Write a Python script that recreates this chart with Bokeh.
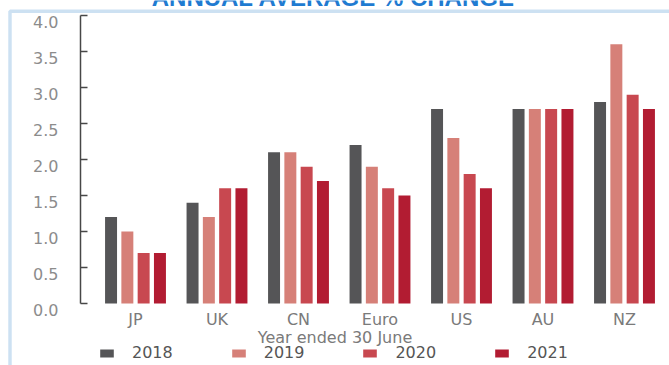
import numpy as np
from bokeh.plotting import figure
from bokeh.models import (Range1d, FixedTicker, NumeralTickFormatter, Legend,
                          LegendItem, Label, BoxAnnotation, ColumnDataSource,
                          LinearAxis, CustomJSTickFormatter)
from bokeh.embed import file_html
from bokeh.resources import INLINE

categories = ["JP", "UK", "CN", "Euro", "US", "AU", "NZ"]
years = ["2018", "2019", "2020", "2021"]
v2018 = [1.2, 1.4, 2.1, 2.2, 2.7, 2.7, 2.8]
v2019 = [1.0, 1.2, 2.1, 1.9, 2.3, 2.7, 3.6]
v2020 = [0.7, 1.6, 1.9, 1.6, 1.8, 2.7, 2.9]
v2021 = [0.7, 1.6, 1.7, 1.5, 1.6, 2.7, 2.7]
series = [v2018, v2019, v2020, v2021]
colors = ["#555557", "#d68078", "#c84850", "#b21c32"]
y_ticks = [0.0, 0.5, 1.0, 1.5, 2.0, 2.5, 3.0, 3.5, 4.0]
title_text = "ANNUAL AVERAGE % CHANGE"
x_label = "Year ended 30 June"

FONT = "DejaVu Sans"
W, H = 669, 365
PX_X = 81.5          # pixels per category
PX_Y = 72.0          # pixels per unit on y
X0_PX, Y0_PX = 135.0, 303.0   # pixel of first category centre / of y = 0
LABEL_DROP = 6.0     # y tick labels sit a few pixels below their ticks


def xd(px):
    return (px - X0_PX) / PX_X


def yd(py):
    return (Y0_PX - py) / PX_Y


p = figure(width=W, height=H, output_backend="svg", toolbar_location=None,
           x_range=Range1d(xd(0), xd(W)), y_range=Range1d(yd(H), yd(0)),
           min_border=0)
p.title.visible = False
p.outline_line_color = None
p.grid.visible = False
p.background_fill_color = "white"
p.border_fill_color = "white"

idx = np.arange(len(categories))
bar_w = 0.147
pitch = 0.2
renderers = []
for j, (yr, vals, col) in enumerate(zip(years, series, colors)):
    src = ColumnDataSource(dict(x=idx + (j - 1.5) * pitch, top=vals))
    r = p.vbar(x="x", top="top", width=bar_w, bottom=0, source=src,
               fill_color=col, line_color=None)
    renderers.append(r)

# y axis line + inward ticks (drawn at a fixed location inside the full-canvas frame)
ya = p.yaxis[0]
ya.fixed_location = xd(80)
ya.bounds = (y_ticks[0], y_ticks[-1])
ya.ticker = FixedTicker(ticks=y_ticks)
ya.formatter = CustomJSTickFormatter(code="return ''")
ya.major_tick_in = 7
ya.major_tick_out = 0
ya.minor_tick_in = 0
ya.minor_tick_out = 0
ya.axis_line_color = "#474747"
ya.axis_line_width = 1.5
ya.major_tick_line_color = "#474747"
ya.major_tick_line_width = 1.5

# y tick labels (same ticks, shown slightly below the tick marks as in the source)
d = LABEL_DROP / PX_Y
p.extra_y_ranges = {"lab": Range1d(yd(H) + d, yd(0) + d)}
ylab = LinearAxis(y_range_name="lab", fixed_location=xd(80),
                  ticker=FixedTicker(ticks=y_ticks),
                  formatter=NumeralTickFormatter(format="0.0"),
                  axis_line_color=None, major_tick_line_color=None,
                  minor_tick_line_color=None, major_tick_out=0, major_tick_in=0,
                  major_label_standoff=22, major_label_text_font=FONT,
                  major_label_text_font_size="16px",
                  major_label_text_color="#8c8c8c")
p.add_layout(ylab, "left")

# x axis
xa = p.xaxis[0]
xa.fixed_location = 0
xa.ticker = FixedTicker(ticks=list(idx))
xa.major_label_overrides = {int(i): c for i, c in zip(idx, categories)}
xa.axis_line_color = None
xa.major_tick_line_color = None
xa.minor_tick_line_color = None
xa.major_label_standoff = 0
xa.major_label_text_font = FONT
xa.major_label_text_font_size = "16px"
xa.major_label_text_color = "#7a7a7a"
xa.axis_label = x_label
xa.axis_label_text_font = FONT
xa.axis_label_text_font_style = "normal"
xa.axis_label_text_font_size = "16px"
xa.axis_label_text_color = "#7a7a7a"
xa.axis_label_standoff = -4

legend = Legend(items=[LegendItem(label=yr, renderers=[r]) for yr, r in zip(years, renderers)],
                orientation="horizontal", location=(98, 3),
                glyph_width=17, glyph_height=10, label_standoff=17, spacing=57,
                label_text_font=FONT, label_text_font_size="16px",
                label_text_color="#555555", padding=0, margin=0,
                border_line_color=None, background_fill_alpha=0)
p.add_layout(legend)

# blue frame (left and top edges)
frame_box = BoxAnnotation(left=xd(9.5), right=xd(W + 50), top=yd(10.7), bottom=yd(H + 50),
                          fill_alpha=0, line_color="#5b9bd5", line_width=3.5)
p.add_layout(frame_box)

title = Label(x=xd(333), y=yd(-3), text=title_text, text_align="center",
              text_baseline="alphabetic", text_font="Liberation Sans",
              text_font_style="bold", text_font_size="24px", text_color="#1f7bd1")
p.add_layout(title)

open("out.html", "w").write(file_html(p, INLINE))
